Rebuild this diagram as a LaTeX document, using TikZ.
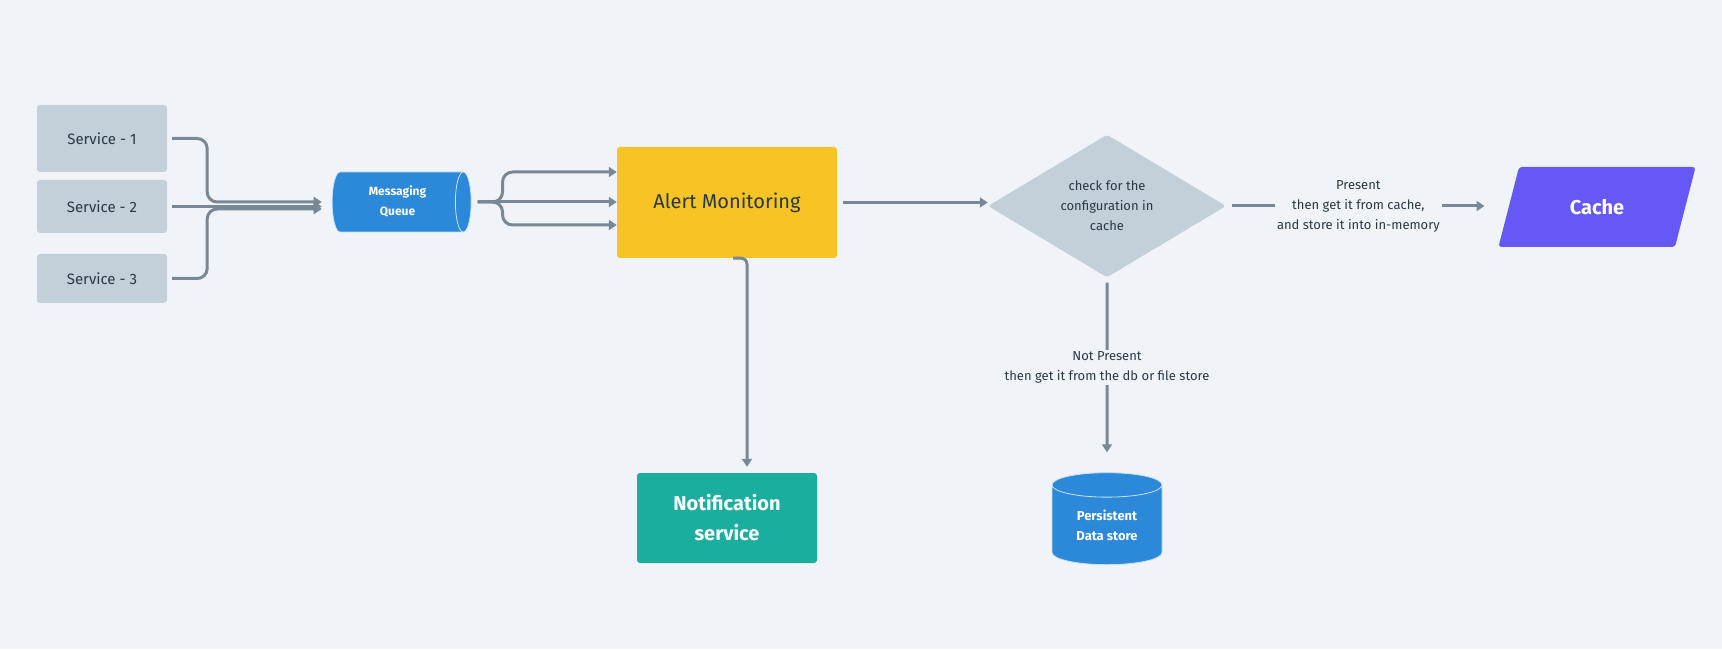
\documentclass[tikz,border=0pt]{standalone}
\usepackage{fontspec}
\setmainfont{Fira Sans}
\usetikzlibrary{arrows.meta,positioning,calc,shapes.geometric}
\definecolor{bgc}{HTML}{F0F4F8}
\definecolor{svcgray}{HTML}{C3CFD9}
\definecolor{wire}{HTML}{788896}
\definecolor{ink}{HTML}{293845}
\definecolor{qblue}{HTML}{2C88D9}
\definecolor{amber}{HTML}{F7C325}
\definecolor{teal}{HTML}{1AAE9F}
\definecolor{violet}{HTML}{6558F5}

\begin{document}
\begin{tikzpicture}[x=1pt,y=1pt,
  svc/.style={fill=svcgray,rounded corners=3pt,minimum width=130pt,text=ink,font=\fontsize{15}{20}\selectfont},
  tank/.style={cylinder,cylinder uses custom fill,cylinder body fill=qblue,cylinder end fill=qblue,draw=white!75!qblue,line width=.8pt,text=white,align=center,inner sep=0pt,font=\bfseries\fontsize{12}{20}\selectfont},
  arr/.style={-{Triangle[length=8pt,width=10pt]},line width=3pt,draw=wire},
  lbl/.style={text=ink,align=center,inner sep=2pt,fill=bgc,font=\fontsize{13}{20}\selectfont}]
\fill[bgc] (0,0) rectangle (1722,649);
\useasboundingbox (0,0) rectangle (1722,649);
% services
\node[svc, minimum height=67pt] (s1) at (102,510.5) {Service - 1};
\node[svc, minimum height=53pt] (s2) at (102,442.5) {Service - 2};
\node[svc, minimum height=49pt] (s3) at (102,370.5) {Service - 3};
\node[tank, minimum width=60pt, minimum height=139pt, aspect=0.5] (queue) at (397.5,447) {Messaging\\Queue};
\node[fill=amber, rounded corners=3pt, minimum width=220pt, minimum height=111pt, text=ink, font=\fontsize{20}{24}\selectfont] (alert) at (727,446.5) {Alert Monitoring};
\node[diamond, fill=svcgray, rounded corners=3pt, minimum width=238pt, minimum height=140pt, inner sep=0pt, align=center, text=ink, font=\fontsize{13}{20}\selectfont] (dec) at (1107,443) {check for the\\configuration in\\cache};
\node[trapezium, trapezium left angle=70, trapezium right angle=110, trapezium stretches=true, fill=violet, rounded corners=3pt, minimum width=198pt, minimum height=80pt, text=white, font=\bfseries\fontsize{20}{24}\selectfont] (cache) at (1597,442) {Cache};
\node[fill=teal, rounded corners=3pt, minimum width=180pt, minimum height=90pt, text=white, align=center, font=\bfseries\fontsize{20}{30}\selectfont] (notif) at (727,131) {Notification\\service};
\node[tank, shape border rotate=90, minimum width=110pt, minimum height=92pt, aspect=0.4, font=\bfseries\fontsize{13}{20}\selectfont] (store) at (1107,124) {Persistent\\Data store};
% services into the queue
\draw[arr, rounded corners=10pt] ([xshift=5pt]s1.east) -- ++(35pt,0) |- ([xshift=-10pt]queue.west);
\draw[arr] ([xshift=5pt]s2.east) -- ([xshift=-10pt]s2.east -| queue.west);
\draw[arr, rounded corners=10pt] ([xshift=5pt]s3.east) -- ++(35pt,0) |- ([xshift=-10pt,yshift=-7pt]queue.west);
% queue into alert monitoring
\draw[arr, rounded corners=10pt] ([xshift=6pt]queue.east) -- ++(25pt,0) |- ([yshift=30.5pt]alert.west);
\draw[arr] ([xshift=6pt]queue.east) -- (queue.east -| alert.west);
\draw[arr, rounded corners=10pt] ([xshift=6pt]queue.east) -- ++(25pt,0) |- ([yshift=-22.5pt]alert.west);
\draw[arr, rounded corners=6pt] ([xshift=6pt]alert.south) -| ([xshift=20pt,yshift=6pt]notif.north);
\draw[arr] ([xshift=6pt]alert.east) -- (alert.east -| dec.west);
% decision
\draw[arr] ([xshift=6pt]dec.east) -- node[lbl] {Present\\then get it from cache,\\and store it into in-memory} ([xshift=-24pt]dec.east -| cache.west);
\draw[arr] ([yshift=-5pt]dec.south) -- node[lbl] {Not Present\\then get it from the db or file store} ([yshift=20pt]store.north);
\end{tikzpicture}
\end{document}
